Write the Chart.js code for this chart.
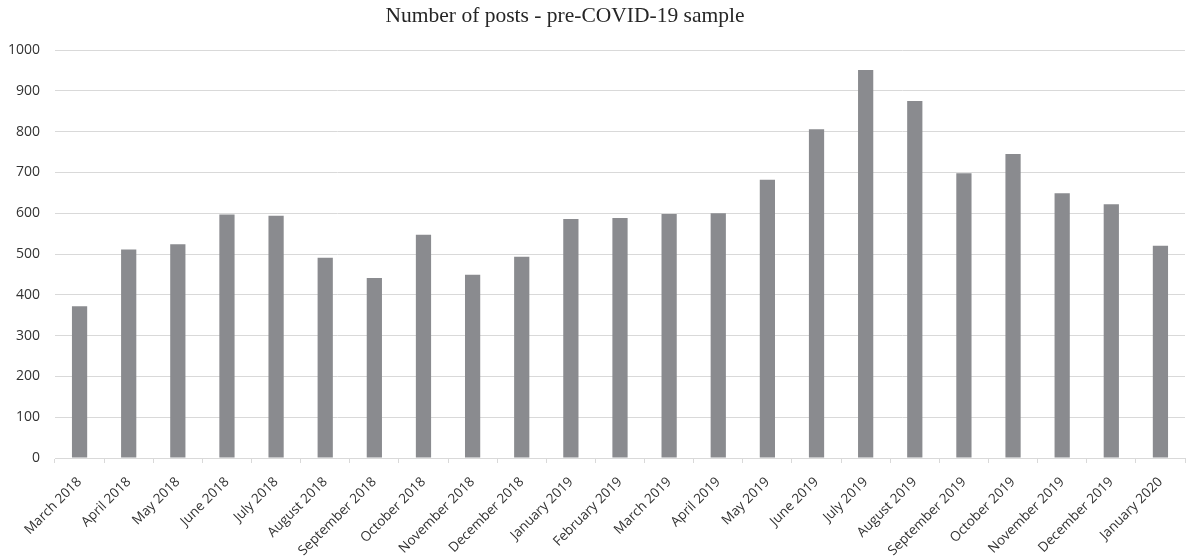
<!DOCTYPE html>
<html>
<head>
<meta charset="utf-8">
<script src="https://cdn.jsdelivr.net/npm/chart.js@4.4.1/dist/chart.umd.min.js"></script>
<style>
    html, body { margin: 0; padding: 0; background: #fff; }
    #wrap { width: 1188px; height: 559px; position: relative; }
</style>
</head>
<body>
<div id="wrap"><canvas id="postsChart"></canvas></div>
<script>
// Chart data
const chartTitle = 'Number of posts - pre-COVID-19 sample';

const months = [
    'March 2018', 'April 2018', 'May 2018', 'June 2018', 'July 2018',
    'August 2018', 'September 2018', 'October 2018', 'November 2018',
    'December 2018', 'January 2019', 'February 2019', 'March 2019',
    'April 2019', 'May 2019', 'June 2019', 'July 2019', 'August 2019',
    'September 2019', 'October 2019', 'November 2019', 'December 2019',
    'January 2020'
];

const posts = [
    372, 511, 524, 597, 594, 491, 441, 547, 449, 493, 586, 588,
    598, 600, 682, 806, 951, 875, 698, 745, 649, 622, 520
];

const yMin = 0;
const yMax = 1000;
const yStep = 100;

/**
 * Draw the title as plain text, a bit left of the canvas centre like the original
 */
const titlePlugin = {
    id: 'sampleTitle',
    afterDraw(chart) {
        const ctx = chart.ctx;
        ctx.save();
        ctx.font = '21.5px "Liberation Serif"';
        ctx.fillStyle = '#262626';
        ctx.textAlign = 'center';
        ctx.textBaseline = 'alphabetic';
        ctx.fillText(chartTitle, 565, 22);
        ctx.restore();
    }
};

const ctx = document.getElementById('postsChart');

new Chart(ctx, {
    type: 'bar',
    data: {
        labels: months,
        datasets: [{
            label: 'Posts',
            data: posts,
            backgroundColor: '#8a8b8f',
            borderWidth: 0,
            categoryPercentage: 1,
            barPercentage: 0.31
        }]
    },
    options: {
        responsive: true,
        maintainAspectRatio: false,
        animation: false,
        layout: {
            padding: { top: 50, right: 3, left: 0, bottom: 0 }
        },
        plugins: {
            legend: { display: false },
            tooltip: { enabled: false },
            title: { display: false }
        },
        scales: {
            x: {
                offset: true,
                grid: {
                    display: true,
                    drawOnChartArea: false,
                    drawTicks: true,
                    tickLength: 5,
                    color: '#d9d9d9'
                },
                border: { color: '#d9d9d9', width: 1 },
                ticks: {
                    autoSkip: false,
                    minRotation: 45,
                    maxRotation: 45,
                    padding: 11,
                    color: '#333333',
                    font: { family: '"Open Sans"', size: 13.5 }
                },
                afterFit(scale) {
                    scale.height = 101;
                }
            },
            y: {
                min: yMin,
                max: yMax,
                grid: {
                    color: '#d9d9d9',
                    drawTicks: false
                },
                border: { display: false },
                ticks: {
                    stepSize: yStep,
                    padding: 15,
                    color: '#333333',
                    font: { family: '"Open Sans"', size: 14 },
                    callback: function(value) {
                        return String(value);
                    }
                },
                afterFit(scale) {
                    scale.width = 55;
                }
            }
        }
    },
    plugins: [titlePlugin]
});
</script>
</body>
</html>
